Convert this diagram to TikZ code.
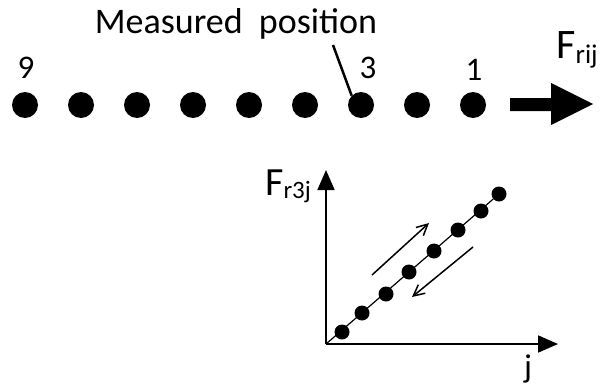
\documentclass[tikz,border=0pt]{standalone}
\usepackage{fontspec}
\setmainfont{Carlito}
\usetikzlibrary{positioning,arrows.meta}

\begin{document}
\begin{tikzpicture}[x=1pt, y=-1pt, font=\fontsize{33}{38}\selectfont,
  bead/.style={circle, fill=black, inner sep=0pt, minimum size=26pt},
  pt/.style={circle, fill=black, inner sep=0pt, minimum size=15pt},
  axis/.style={line width=1.8pt, -{Triangle[length=20pt, width=17pt]}},
  thin arrow/.style={line width=1.5pt, -{Straight Barb[length=11pt, width=11pt]}}]
\useasboundingbox (0,0) rectangle (601,388);

% row of beads, 1 on the right, 9 on the left
\foreach \i in {1,...,9}
  \node[bead] (b\i) at ({473-(\i-1)*56},105) {};

\node (n9) at (26,68) {9};
\node (n3) at (368,68) {3};
\node (n1) at (474,70) {1};

% pulling force
\fill (510,98) -- (551,98) -- (551,83) -- (593,104) -- (551,125) -- (551,111) -- (510,111) -- cycle;
\node (frij) at (577,50) {\fontsize{42}{46}\selectfont F\raisebox{-0.25ex}{\fontsize{27}{30}\selectfont rij}};

% measured position
\node (meas) at (236,24) {\fontsize{36}{40}\selectfont Measured~~position};
\coordinate (mp) at (333,45);
\draw[line width=2.5pt] (mp) -- (b3.north west);

% force versus j
\coordinate (o) at (326,344);
\coordinate (ytop) at (326,170);
\coordinate (xend) at (558,344);
\draw[axis] (o) -- (ytop);
\draw[axis] (o) -- (xend);
\node (fr3j) at (288,186) {\fontsize{40}{42}\selectfont F\raisebox{-0.15ex}{\fontsize{25}{27}\selectfont r3j}};
\node (jlab) at (528,369) {j};

\node[pt] (p1) at (342,332) {};
\node[pt] (p2) at (362,313) {};
\node[pt] (p3) at (386,294) {};
\node[pt] (p4) at (409,272) {};
\node[pt] (p5) at (434,251) {};
\node[pt] (p6) at (458,230) {};
\node[pt] (p7) at (481,211) {};
\node[pt] (p8) at (499,194) {};
\draw[line width=1.2pt] (o) -- (p8);

\coordinate (ua) at (372,275);
\coordinate (ub) at (429,223);
\coordinate (la) at (473,247);
\coordinate (lb) at (412,297);
\draw[thin arrow] (ua) -- (ub);
\draw[thin arrow] (la) -- (lb);
\end{tikzpicture}
\end{document}
